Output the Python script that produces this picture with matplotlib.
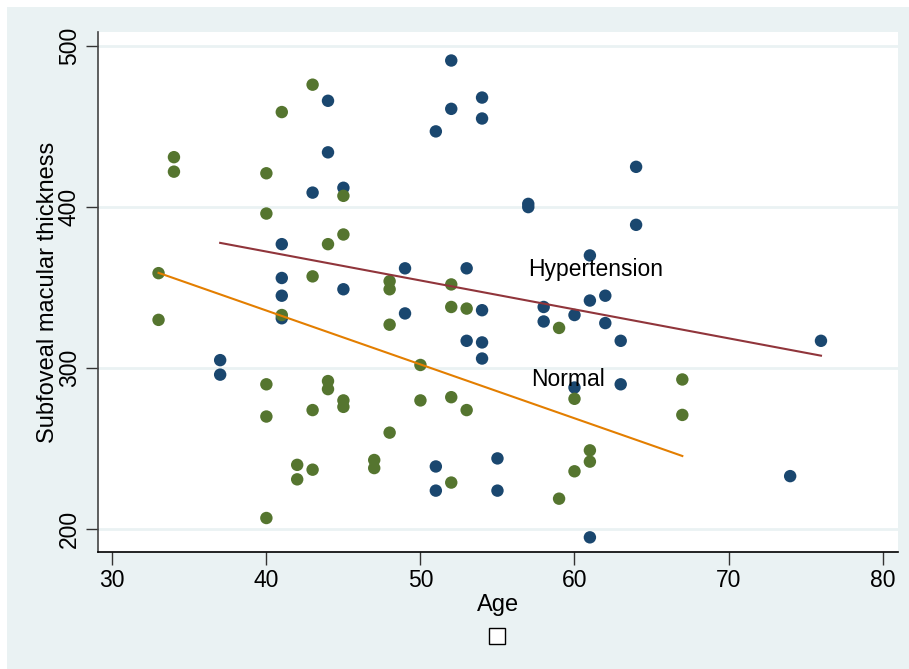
import numpy as np
import matplotlib.pyplot as plt
from matplotlib.patches import Rectangle

plt.rcParams['font.family'] = ['Liberation Sans', 'DejaVu Sans']

# Normal group (green)
normal_age = [33, 33, 34, 34, 40, 40, 40, 40, 40, 41, 41, 42, 42, 43, 43, 43, 43,
              44, 44, 44, 45, 45, 45, 45, 47, 47, 48, 48, 48, 48, 50, 50,
              52, 52, 52, 52, 53, 53, 59, 59, 60, 60, 61, 61, 67, 67]
normal_smt = [359, 330, 431, 422, 421, 396, 290, 270, 207, 459, 333, 240, 231, 476, 357, 274, 237,
              377, 292, 287, 407, 383, 280, 276, 243, 238, 354, 349, 327, 260, 302, 280,
              352, 338, 282, 229, 337, 274, 325, 219, 281, 236, 249, 242, 293, 271]

# Hypertension group (navy)
hyper_age = [37, 37, 41, 41, 41, 41, 43, 44, 44, 45, 45, 49, 49, 51, 51, 51, 52, 52,
             53, 53, 54, 54, 54, 54, 54, 55, 55, 57, 57, 58, 58, 60, 60, 61, 61, 61,
             62, 62, 63, 63, 64, 64, 74, 76]
hyper_smt = [305, 296, 377, 356, 345, 331, 409, 466, 434, 412, 349, 362, 334, 447, 239, 224, 491, 461,
             362, 317, 468, 455, 336, 316, 306, 244, 224, 402, 400, 338, 329, 333, 288, 370, 342, 195,
             345, 328, 317, 290, 425, 389, 233, 317]

xticks = [30, 40, 50, 60, 70, 80]
yticks = [200, 300, 400, 500]

navy = '#1A476F'
green = '#55752F'
maroon = '#90353B'
orange = '#E37E00'
bg = '#EAF2F3'

fig = plt.figure(figsize=(9.09, 6.69), dpi=100, facecolor='white')
fig.patches.append(Rectangle((7 / 909, 0), 1, (669 - 7) / 669, transform=fig.transFigure,
                             facecolor=bg, edgecolor='none', zorder=-10))

ax = fig.add_axes([98 / 909, (669 - 552) / 669, 800 / 909, 520 / 669])
ax.set_facecolor('white')

for y in yticks:
    ax.axhline(y, color=bg, lw=2, zorder=0)

ax.scatter(hyper_age, hyper_smt, s=80, color=navy, edgecolors='none', zorder=3)
ax.scatter(normal_age, normal_smt, s=80, color=green, edgecolors='none', zorder=3)

# linear fits per group
for ages, vals, col in [(hyper_age, hyper_smt, maroon), (normal_age, normal_smt, orange)]:
    b, a = np.polyfit(ages, vals, 1)
    xs = np.array([min(ages), max(ages)])
    ax.plot(xs, a + b * xs, color=col, lw=1.5, zorder=4)

ax.text(57.0, 361, 'Hypertension', fontsize=16.5, va='center', ha='left', zorder=5)
ax.text(57.2, 293, 'Normal', fontsize=16.5, va='center', ha='left', zorder=5)

ax.set_xlim(29.07, 81.0)
ax.set_ylim(185.9, 508.7)
ax.set_xticks(xticks)
ax.set_yticks(yticks)
ax.tick_params(axis='both', labelsize=16.5, length=9, width=1, color='#333333', direction='out')
for lab in ax.get_yticklabels():
    lab.set_rotation(90)
    lab.set_va('center')

ax.spines['top'].set_visible(False)
ax.spines['right'].set_visible(False)
ax.spines['left'].set_color('#444444')
ax.spines['bottom'].set_color('black')
ax.spines['left'].set_linewidth(1.2)
ax.spines['bottom'].set_linewidth(1.2)

ax.set_xlabel('Age', fontsize=17, labelpad=1)
ax.set_ylabel('Subfoveal macular thickness', fontsize=17, labelpad=-1)

# empty legend box
fig.patches.append(Rectangle((489 / 909, (669 - 644) / 669), 16 / 909, 16 / 669,
                             transform=fig.transFigure, facecolor='white',
                             edgecolor='black', lw=1, zorder=5))

fig.savefig('out.png', dpi=100, facecolor=fig.get_facecolor())
